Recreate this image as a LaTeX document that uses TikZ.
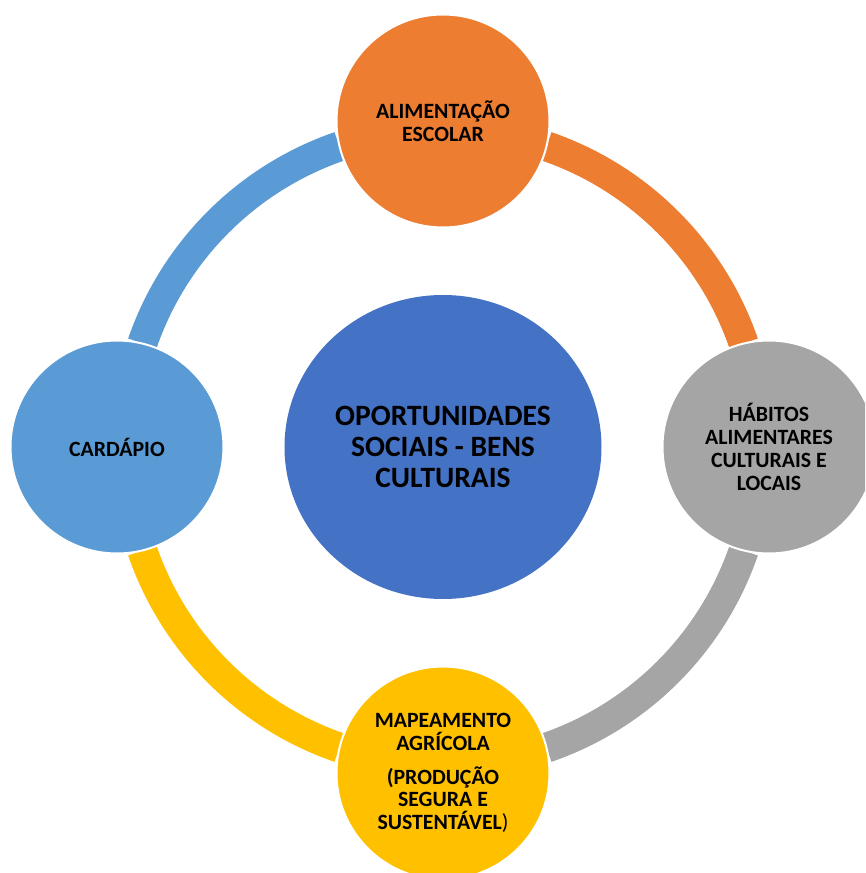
\documentclass[tikz,border=0pt]{standalone}
\usepackage{fontspec}
\setmainfont{Carlito}[BoldFont={Carlito Bold}]
\usetikzlibrary{shapes.geometric}
\definecolor{coreblue}{HTML}{4472C4}
\definecolor{skyblue}{HTML}{5B9BD5}
\definecolor{tangerine}{HTML}{ED7D31}
\definecolor{stone}{HTML}{A5A5A5}
\definecolor{gold}{HTML}{FFC000}
\tikzset{
  every cycle node/.style={circle,draw=white,line width=2pt,minimum size=213pt,
    inner sep=0pt,align=center,font=\bfseries\fontsize{21.8}{22.8}\selectfont},
  ring/.style={line width=30pt}
}
\begin{document}
\begin{tikzpicture}[x=1pt,y=1pt]
\useasboundingbox (-443,-426) rectangle (422,447);
\clip (-443,-426) rectangle (422,447);

\coordinate (o) at (0,0);
% ring segments between the outer circles
\draw[ring,tangerine] (o) ++(71:318) arc[start angle=71,end angle=19,radius=318];
\draw[ring,stone] (o) ++(-19:318) arc[start angle=-19,end angle=-71,radius=318];
\draw[ring,gold] (o) ++(-109:318) arc[start angle=-109,end angle=-161,radius=318];
\draw[ring,skyblue] (o) ++(161:318) arc[start angle=161,end angle=109,radius=318];

% outer circles
\node[every cycle node,fill=tangerine] (alim) at (0,326) {ALIMENTAÇÃO\\ESCOLAR};
\node[every cycle node,fill=stone] (habit) at (326,0) {HÁBITOS\\ALIMENTARES\\CULTURAIS E\\LOCAIS};
\node[every cycle node,fill=gold] (mapa) at (0,-326)
  {MAPEAMENTO\\AGRÍCOLA\\[11pt](PRODUÇÃO\\SEGURA E\\SUSTENTÁVEL{\mdseries)}};
\node[every cycle node,fill=skyblue] (menu) at (-326,0) {CARDÁPIO};

% centre
\node[ellipse,fill=coreblue,minimum width=317pt,minimum height=304pt,inner sep=0pt,
  align=center,font=\bfseries\fontsize{29.5}{31}\selectfont] (core) at (o)
  {OPORTUNIDADES\\SOCIAIS - BENS\\CULTURAIS};
\end{tikzpicture}
\end{document}
